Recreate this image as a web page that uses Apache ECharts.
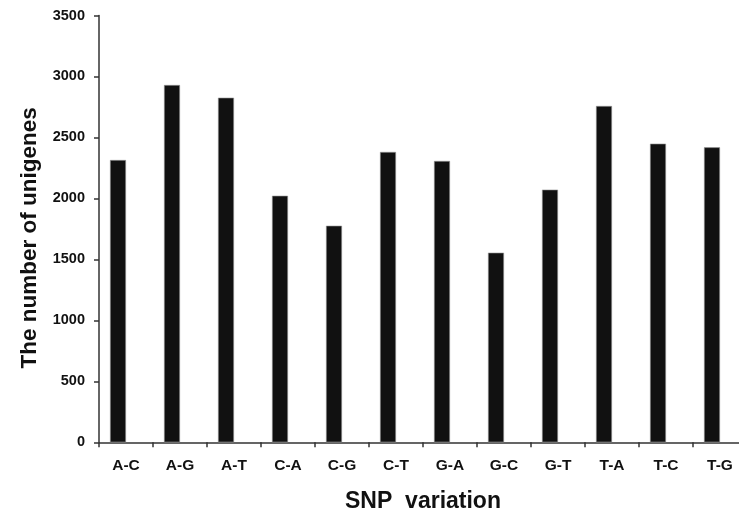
<!DOCTYPE html>
<html>
<head>
<meta charset="utf-8">
<script src="https://cdn.jsdelivr.net/npm/echarts@6/dist/echarts.min.js"></script>
<style>
  html, body { margin: 0; padding: 0; background: #fff; }
  #chart { width: 739px; height: 508px; }
</style>
</head>
<body>
<div id="chart"></div>
<script>
  // SNP types along the x axis
  var categories = ['A-C', 'A-G', 'A-T', 'C-A', 'C-G', 'C-T', 'G-A', 'G-C', 'G-T', 'T-A', 'T-C', 'T-G'];
  // number of unigenes
  var unigenes = [2315, 2930, 2826, 2022, 1776, 2381, 2307, 1555, 2072, 2758, 2449, 2419];
  // empty second series, the original bars sit left of the category centre
  var emptySeries = ['-', '-', '-', '-', '-', '-', '-', '-', '-', '-', '-', '-'];
  var yTicks = {min: 0, max: 3500, interval: 500};

  var font = 'Liberation Sans, Arial, sans-serif';
  var chart = echarts.init(document.getElementById('chart'));

  chart.setOption({
    animation: false,
    grid: {left: 99, right: -8, top: 15.5, bottom: 65.7, outerBoundsMode: 'none', containLabel: false},
    xAxis: {
      type: 'category',
      data: categories,
      name: 'SNP  variation',
      nameLocation: 'middle',
      nameGap: 48,
      nameTextStyle: {fontFamily: font, fontWeight: 'bold', fontSize: 23, color: '#111'},
      axisLine: {lineStyle: {color: '#333', width: 1.5}},
      axisTick: {show: true, length: 5, lineStyle: {color: '#333', width: 1.5}},
      axisLabel: {fontFamily: font, fontWeight: 'bold', fontSize: 15.5, color: '#111', margin: 15}
    },
    yAxis: {
      type: 'value',
      min: yTicks.min,
      max: yTicks.max,
      interval: yTicks.interval,
      name: 'The number of unigenes',
      nameLocation: 'middle',
      nameGap: 58,
      nameTextStyle: {
        fontFamily: font, fontWeight: 'bold', fontSize: 22.5, color: '#111',
        padding: [0, 18, 0, 0]
      },
      axisLine: {show: true, lineStyle: {color: '#333', width: 1.5}},
      axisTick: {show: true, length: 5, lineStyle: {color: '#333', width: 1.5}},
      axisLabel: {
        fontFamily: font, fontWeight: 'bold', fontSize: 14.5, color: '#111', margin: 14,
        formatter: function (v) { return String(v); }
      },
      splitLine: {show: false}
    },
    series: [
      {
        type: 'bar',
        data: unigenes,
        barWidth: 16,
        barGap: '0%',
        itemStyle: {color: '#111', borderColor: '#999', borderWidth: 0.6}
      },
      {
        type: 'bar',
        data: emptySeries,
        barWidth: 16
      }
    ]
  });
</script>
</body>
</html>
